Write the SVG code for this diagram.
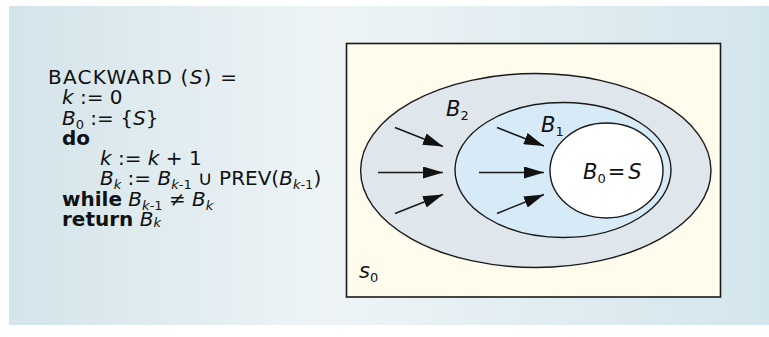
<svg xmlns="http://www.w3.org/2000/svg" width="769" height="337" viewBox="0 0 769 337">
<defs>
<linearGradient id="bg" x1="0" y1="0" x2="1" y2="0">
<stop offset="0" stop-color="#d3e4ea"/>
<stop offset="0.42" stop-color="#eef4f6"/>
<stop offset="1" stop-color="#d3e5ec"/>
</linearGradient>
<marker id="head" viewBox="0 0 20 12" refX="20" refY="6" markerWidth="20" markerHeight="12" markerUnits="userSpaceOnUse" orient="auto">
<path d="M0,0 L20,6 L0,12 Z" fill="#111"/>
</marker>
</defs>
<style>
.t{font-family:"DejaVu Sans","Liberation Sans",sans-serif;font-size:21px;fill:#111}
#code{font-size:20px}
.i{font-style:italic}
.b{font-weight:bold}
.s{font-size:13px}
.ln{stroke:#1a1a1a;stroke-width:1.4}
#e2{fill:#dfe6ec}
#e1{fill:#d6eaf8}
#e0{fill:#ffffff}
.ar{stroke:#1a1a1a;stroke-width:1.5;fill:none;marker-end:url(#head)}
</style>
<rect x="9" y="6" width="760" height="319" fill="url(#bg)"/>
<g id="code" class="t">
<text x="48" y="84" textLength="189" lengthAdjust="spacing">BACKWARD (<tspan class="i">S</tspan>) =</text>
<text x="62" y="104.3"><tspan class="i">k</tspan> := 0</text>
<text x="62" y="124.6"><tspan class="i">B</tspan><tspan class="s" dy="4">0</tspan><tspan dy="-4"> := {</tspan><tspan class="i">S</tspan>}</text>
<text x="62" y="144.9" class="b">do</text>
<text x="100" y="165.1"><tspan class="i">k</tspan> := <tspan class="i">k</tspan> + 1</text>
<text x="100" y="185.4"><tspan class="i">B</tspan><tspan class="s i" dy="4">k</tspan><tspan dy="-4"> := </tspan><tspan class="i">B</tspan><tspan class="s" dy="4"><tspan class="i">k</tspan>-1</tspan><tspan dy="-4"> ∪ PREV(</tspan><tspan class="i">B</tspan><tspan class="s" dy="4"><tspan class="i">k</tspan>-1</tspan><tspan dy="-4">)</tspan></text>
<text x="62" y="205.7"><tspan class="b">while</tspan> <tspan class="i">B</tspan><tspan class="s" dy="4"><tspan class="i">k</tspan>-1</tspan><tspan dy="-4"> ≠ </tspan><tspan class="i">B</tspan><tspan class="s i" dy="4">k</tspan></text>
<text x="62" y="226"><tspan class="b">return</tspan> <tspan class="i">B</tspan><tspan class="s i" dy="1">k</tspan></text>
</g>
<g id="state-space">
<rect x="346.5" y="43.5" width="374" height="253.5" fill="#fffcee" stroke="#1a1a1a" stroke-width="1.6"/>
<text class="t i" x="359" y="278">s<tspan class="s" dy="4" font-style="normal">0</tspan></text>
</g>
<g id="B2">
<ellipse id="e2" class="ln" cx="535.8" cy="170.5" rx="175.2" ry="97"/>
<text class="t" x="446" y="116"><tspan class="i">B</tspan><tspan class="s" dy="4">2</tspan></text>
</g>
<g id="B1">
<ellipse id="e1" class="ln" cx="563" cy="170" rx="108" ry="67.5"/>
<text class="t" x="541" y="132"><tspan class="i">B</tspan><tspan class="s" dy="4">1</tspan></text>
</g>
<g id="B0">
<ellipse id="e0" class="ln" cx="606.5" cy="170.5" rx="56.5" ry="47.5"/>
<text class="t" x="583" y="179"><tspan class="i">B</tspan><tspan class="s" dy="4">0</tspan><tspan dy="-4" dx="2">=</tspan><tspan class="i" dx="3">S</tspan></text>
</g>
<g id="connectors">
<line class="ar" x1="395" y1="127.5" x2="443" y2="146.5"/>
<line class="ar" x1="378" y1="172.5" x2="443" y2="172.5"/>
<line class="ar" x1="395" y1="213.5" x2="443" y2="194.5"/>
<line class="ar" x1="497" y1="127.5" x2="544" y2="146"/>
<line class="ar" x1="479" y1="172.5" x2="544" y2="172.5"/>
<line class="ar" x1="497" y1="213.5" x2="544" y2="194.5"/>
</g>
</svg>
